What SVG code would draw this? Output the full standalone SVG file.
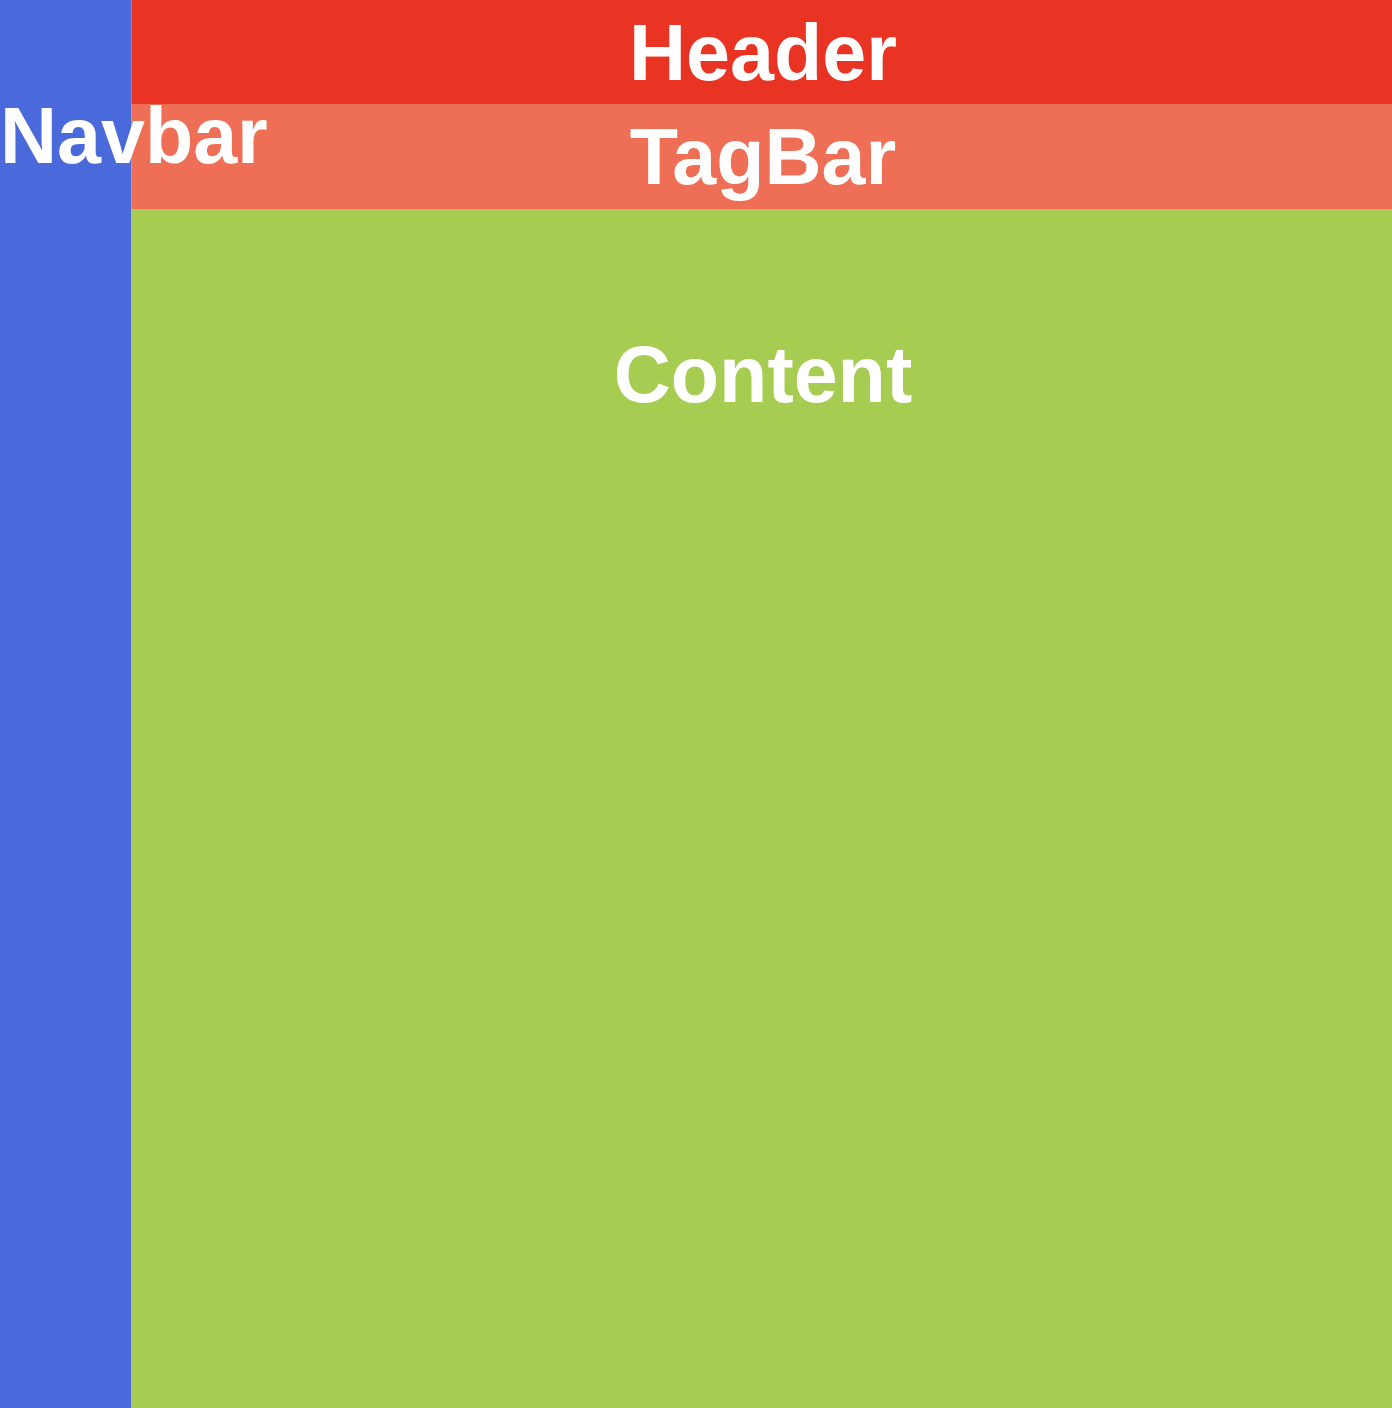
<svg xmlns="http://www.w3.org/2000/svg" width="1392" height="1408" viewBox="0 0 1392 1408">
<style>
.lbl{font-family:"Liberation Sans",Arial,Helvetica,sans-serif;font-weight:bold;font-size:79px;fill:#ffffff}
.c{text-anchor:middle}
</style>
<g id="navbar"><rect x="0" y="0" width="131.5" height="1408" fill="#4A6ADB"/></g>
<g id="header"><rect x="131.5" y="0" width="1260.5" height="104" fill="#E93424"/><text class="lbl c" x="763" y="80">Header</text></g>
<g id="tagbar"><rect x="131.5" y="104" width="1260.5" height="105" fill="#EE6F55"/><text class="lbl c" x="763" y="184">TagBar</text></g>
<g id="content"><rect x="131.5" y="209" width="1260.5" height="1199" fill="#A6CC52"/><text class="lbl c" x="763" y="402">Content</text></g>
<g id="navbar-label"><text class="lbl" x="0" y="163">Navbar</text></g>
<g id="connectors"/>
</svg>
